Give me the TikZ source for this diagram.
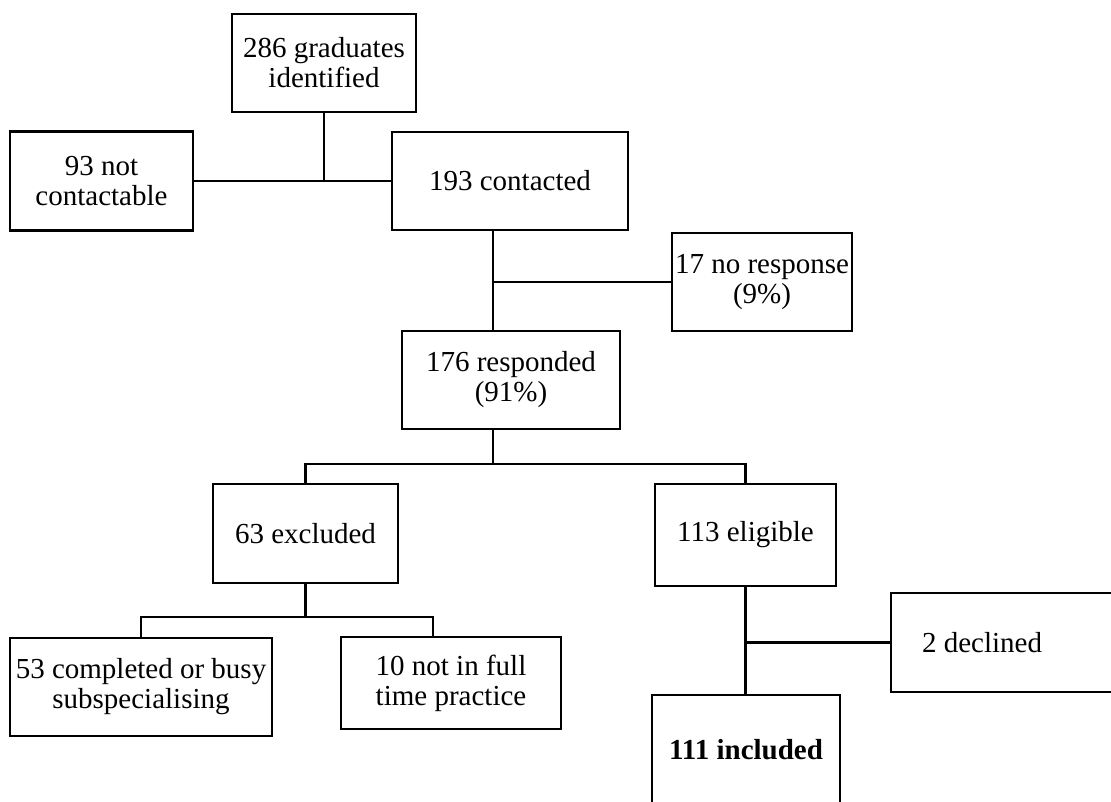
\documentclass[tikz,border=0pt]{standalone}
\usepackage{fontspec}
\setmainfont{Liberation Serif}
\begin{document}
\begin{tikzpicture}[x=1pt,y=-1pt,
  box/.style={draw, line width=2.2pt, inner sep=0pt, outer sep=0pt, align=center, font=\fontsize{29}{30}\selectfont},
  lbl/.style={inner sep=0pt, align=center, font=\fontsize{29}{30}\selectfont},
  conn/.style={line width=2.2pt}]
\useasboundingbox (0,0) rectangle (1111,801);
\clip (0,0) rectangle (1111,801);
% boxes
\node[box, minimum width=184pt, minimum height=98pt] (g286) at (324,63) {286 graduates\\identified};
\node[box, minimum width=183pt, minimum height=99pt] (n93) at (101.5,181) {93 not\\contactable};
\node[box, minimum width=236pt, minimum height=98pt] (c193) at (510,181) {193 contacted};
\node[box, minimum width=180pt, minimum height=98pt] (nr17) at (762,282) {17 no response\\(9\%)};
\node[box, minimum width=218pt, minimum height=98pt] (r176) at (511,380) {176 responded\\(91\%)};
\node[box, minimum width=185pt, minimum height=99pt] (e63) at (305.5,533.5) {63 excluded};
\node[box, minimum width=181pt, minimum height=102pt] (el113) at (745.5,535) {113 eligible};
\node[box, minimum width=262pt, minimum height=98pt] (c53) at (141,687) {53 completed or busy\\subspecialising};
\node[box, minimum width=220pt, minimum height=92pt] (n10) at (451,683) {10 not in full\\time practice};
\node[box, minimum width=240pt, minimum height=99pt] (d2) at (1011,642.5) {};
\node[lbl] (d2t) at (982,643) {2 declined};
\node[box, minimum width=188pt, minimum height=110pt] (i111) at (746,750) {\textbf{111 included}};
% helper coordinates
\coordinate (trunk) at (493,0);
\coordinate (s1) at (0,464);
\coordinate (s2) at (0,617);
\coordinate (tenx) at (433,0);
% connectors
\draw[conn] (g286.south) -- (g286.south |- n93.east);
\draw[conn] (n93.east) -- (c193.west);
\draw[conn] (c193.south -| trunk) -- (r176.north -| trunk);
\draw[conn] (nr17.west -| trunk) -- (nr17.west);
\draw[conn] (r176.south -| trunk) -- (trunk |- s1);
\draw[conn] (e63.north) -- (e63.north |- s1) -- (el113.north |- s1) -- (el113.north);
\draw[conn] (e63.south) -- (e63.south |- s2);
\draw[conn] (c53.north) -- (c53.north |- s2) -- (tenx |- s2) -- (n10.north -| tenx);
\draw[conn] (el113.south) -- (i111.north -| el113.south);
\draw[conn] (d2.west -| el113.south) -- (d2.west);
\end{tikzpicture}
\end{document}
